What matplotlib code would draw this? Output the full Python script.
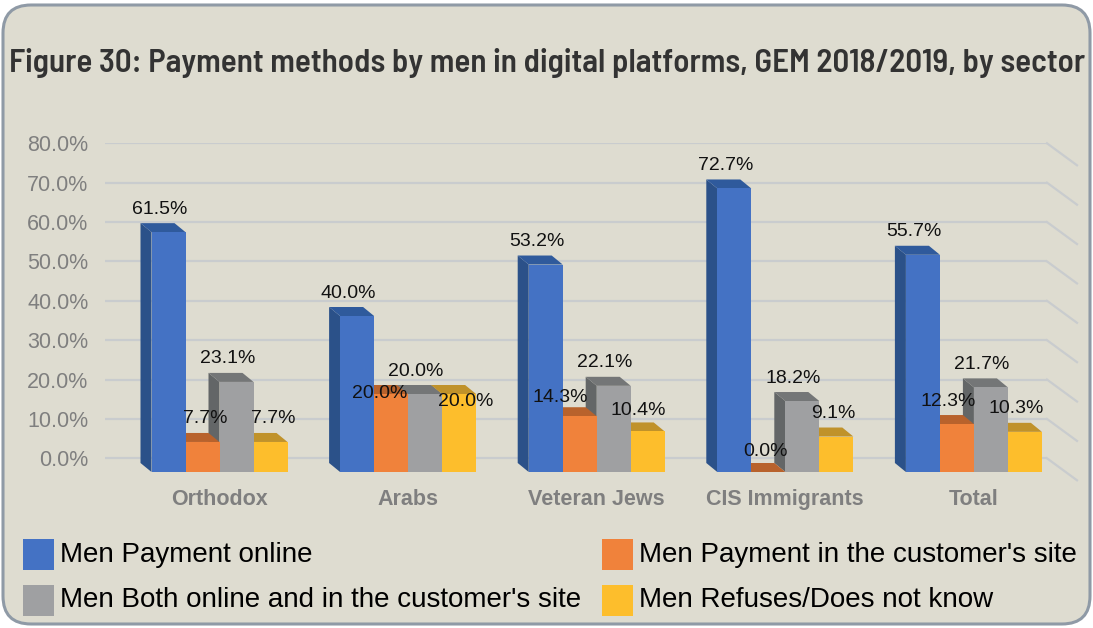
import matplotlib.pyplot as plt
from matplotlib import font_manager
from matplotlib.patches import FancyBboxPatch, Rectangle

# values (%) per sector
sectors = ["Orthodox", "Arabs", "Veteran Jews", "CIS Immigrants", "Total"]
series_names = [
    "Men Payment online",
    "Men Payment in the customer's site",
    "Men Both online and in the customer's site",
    "Men Refuses/Does not know",
]
pay_online = [61.5, 40.0, 53.2, 72.7, 55.7]
pay_customer_site = [7.7, 20.0, 14.3, 0.0, 12.3]
pay_both = [23.1, 20.0, 22.1, 18.2, 21.7]
pay_refuses = [7.7, 20.0, 10.4, 9.1, 10.3]
y_ticks = [0, 10, 20, 30, 40, 50, 60, 70, 80]

series = [pay_online, pay_customer_site, pay_both, pay_refuses]

# front / side / top shades for the fake 3d boxes
front_colors = ["#4472c4", "#f0823b", "#9fa0a2", "#fdbe2c"]
side_colors = ["#2b5189", "#b0592a", "#636667", "#b98a22"]
top_colors = ["#2f5a9c", "#b8622c", "#747677", "#c0922a"]

# label nudges in pixels (dx, dy up) where labels would collide
nudges = {
    (0, 1): (12, 0), (0, 3): (12, 0),
    (1, 1): (-2, -23), (1, 3): (16, -30),
    (2, 1): (-10, -4), (2, 3): (0, -2),
    (3, 1): (6, -2), (3, 3): (6, 0),
}

W, H = 1093, 628
PX_X = 188.6      # pixels per category step
PX_Y = 3.9375     # pixels per percentage point
BAR_W = 34 / PX_X
DEPTH_X = 11 / PX_X
DEPTH_Y = 9 / PX_Y
FRONT_BOTTOM = -13.7 / PX_Y
FRONT_SCALE = 3.9 / PX_Y

SANS = ["Liberation Sans", "DejaVu Sans"]


def title_font():
    """Pick a semi-condensed (or else condensed) heavy face for the title."""
    best, best_score = None, 0
    for f in font_manager.fontManager.ttflist:
        name = f.name.lower().replace(" ", "")
        w = f.weight if isinstance(f.weight, int) else {"bold": 700, "semibold": 600,
                                                         "demibold": 600}.get(f.weight, 400)
        if w < 600:
            continue
        score = 0
        if "semicondensed" in name or f.stretch == "semi-condensed":
            score = 3
        elif "narrow" in name:
            score = 3
        elif "condensed" in name or f.stretch == "condensed":
            score = 2
        if score and w == 600:
            score += 0.5
        if score > best_score:
            best, best_score = f, score
    if best is None:
        return None
    return best.name, best.weight, best.stretch


fig = plt.figure(figsize=(W / 100, H / 100), dpi=100)
fig.patch.set_facecolor("white")

frame = FancyBboxPatch((0.03, 0.04), (W - 6) / 100, (H - 9) / 100,
                       boxstyle="round,pad=0,rounding_size=0.28",
                       transform=fig.dpi_scale_trans,
                       facecolor="#dedcd0", edgecolor="#8f9aa6", linewidth=2.2,
                       zorder=-10)
fig.patches.append(frame)

# axes placed so that 0% sits at y=458 px and 80% at y=143 px
x_left, x_right = 105, 1047
y_top_px, y_zero_px = 143.3, 458.3
ylo = -5
x0 = -(219.5 - x_left) / PX_X
x1 = (x_right - 219.5) / PX_X
bottom_px = y_zero_px - ylo * PX_Y
ax = fig.add_axes([x_left / W, 1 - bottom_px / H,
                   (x_right - x_left) / W, (bottom_px - y_top_px) / H])
ax.set_zorder(1)
ax.set_xlim(x0, x1)
ax.set_ylim(ylo, 80)
ax.set_facecolor("none")
for s in ax.spines.values():
    s.set_visible(False)

grid_color = "#c9ccce"
ax.set_yticks(y_ticks)
ax.set_yticklabels([f"{v:.1f}%" for v in y_ticks])
ax.yaxis.grid(True, color=grid_color, linewidth=1.6, zorder=0)
ax.set_axisbelow(True)
ax.tick_params(axis="y", length=0, pad=12, labelsize=15.5, labelcolor="#7f7f7f")
for lab in ax.get_yticklabels():
    lab.set_family(SANS)

# right wall of the 3d box
for v in y_ticks:
    ax.plot([x1, x1 + 30 / PX_X], [v, v - 22 / PX_Y], color=grid_color,
            linewidth=1.6, clip_on=False, zorder=0)

ax.set_xticks(range(len(sectors)))
ax.set_xticklabels(sectors, fontsize=15.5, fontweight="bold", color="#7f7f7f",
                   family=SANS)
ax.tick_params(axis="x", length=0, pad=8)

# boxes: side faces, then tops, then fronts
for g in range(len(sectors)):
    for k, vals in enumerate(series):
        left = g + (k - 2) * BAR_W
        top = FRONT_BOTTOM + vals[g] * FRONT_SCALE
        ax.fill([left, left, left - DEPTH_X, left - DEPTH_X],
                [FRONT_BOTTOM, top, top + DEPTH_Y, FRONT_BOTTOM + DEPTH_Y],
                color=side_colors[k], linewidth=0, zorder=2)
for g in range(len(sectors)):
    for k, vals in enumerate(series):
        left = g + (k - 2) * BAR_W
        right = left + BAR_W
        top = FRONT_BOTTOM + vals[g] * FRONT_SCALE
        ax.fill([left, right, right - DEPTH_X, left - DEPTH_X],
                [top, top, top + DEPTH_Y, top + DEPTH_Y],
                color=top_colors[k], linewidth=0, zorder=3)
for k, vals in enumerate(series):
    heights = [v * FRONT_SCALE for v in vals]
    xs = [g + (k - 1.5) * BAR_W for g in range(len(sectors))]
    ax.bar(xs, heights, width=BAR_W, bottom=FRONT_BOTTOM,
           color=front_colors[k], linewidth=0, zorder=4)

# value labels
for g in range(len(sectors)):
    for k, vals in enumerate(series):
        v = vals[g]
        cx = g + (k - 1.5) * BAR_W
        top = FRONT_BOTTOM + v * FRONT_SCALE
        ndx, ndy = nudges.get((g, k), (0, 0))
        ax.annotate(f"{v:.1f}%", xy=(cx, top), xytext=(-9 + ndx, 23 + ndy),
                    textcoords="offset pixels", ha="center", va="center",
                    fontsize=14, color="#111111", zorder=6, family=SANS)

# title, fitted to the frame width
tf = title_font()
if tf:
    t_kw = dict(family=[tf[0]] + SANS, fontweight=tf[1], fontstretch=tf[2])
else:
    t_kw = dict(family=SANS, fontweight="bold")
title = fig.text(547 / W, 1 - 63 / H,
                 "Figure 30: Payment methods by men in digital platforms, GEM 2018/2019, by sector",
                 ha="center", va="center", fontsize=20, color="#333333", **t_kw)
fig.canvas.draw()
tw = title.get_window_extent().width
title.set_fontsize(20 * 1075 / tw)

# legend, two rows by two columns
legend_pos = [(23, 554.5), (602, 554.5), (23, 600), (602, 600)]
for (px, py), name, col in zip(legend_pos, series_names, front_colors):
    fig.patches.append(Rectangle((px / W, 1 - (py + 15.5) / H), 31 / W, 31 / H,
                                 transform=fig.transFigure, facecolor=col,
                                 edgecolor="none"))
    fig.text((px + 37) / W, 1 - py / H, name, ha="left", va="center",
             fontsize=20, color="black", family=SANS)

fig.savefig("out.png", dpi=100, facecolor=fig.get_facecolor())
